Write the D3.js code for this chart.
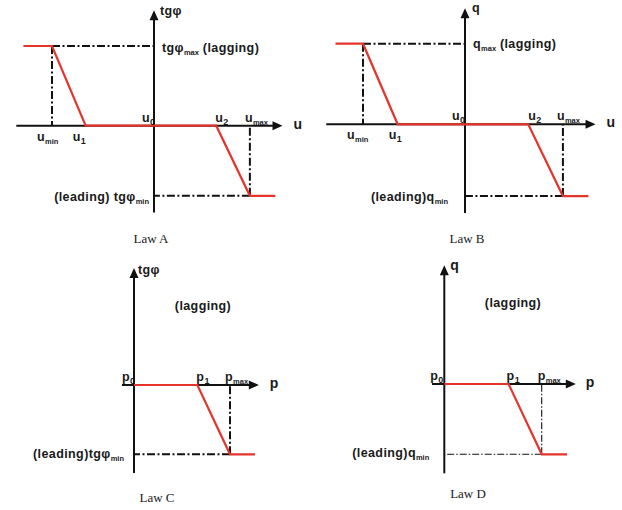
<!DOCTYPE html>
<html><head><meta charset="utf-8">
<script src="https://cdn.jsdelivr.net/npm/d3@7"></script>
<style>
html,body{margin:0;padding:0;background:#fff;}
svg text{font-family:"Liberation Sans",Arial,sans-serif;fill:#1a1a1a;}
.lbl{font-weight:bold;font-size:12.5px;letter-spacing:0.4px;}
.ax{font-weight:bold;font-size:14px;}
.ttl{font-family:"Liberation Serif","Times New Roman",serif;font-size:13px;font-weight:normal;letter-spacing:0;}
</style></head>
<body><svg id="c" width="622" height="510"></svg>
<script>
// ---- data (abstract units) ----
// Law A: tg(phi) vs u
const lawA_x = [-1.28, -1.0, -0.67, 0.61, 0.94, 1.19];
const lawA_y = [1, 1, 0, 0, -0.88, -0.88];
// Law B: q vs u
const lawB_x = [-1.27, -1.0, -0.66, 0.62, 0.96, 1.21];
const lawB_y = [1, 1, 0, 0, -0.89, -0.89];
// Law C: tg(phi) vs p
const lawC_x = [0, 0.66, 1.0, 1.26];
const lawC_y = [0, 0, -1, -1];
// Law D: q vs p
const lawD_x = [0, 0.66, 1.0, 1.26];
const lawD_y = [0, 0, -1, -1];
// axis extents
const lawA_xExt = [-1.35, 1.26], lawA_yExt = [-1.09, 1.45];
const lawB_xExt = [-1.36, 1.28], lawB_yExt = [-1.10, 1.44];
const lawC_xExt = [-0.125, 1.30], lawC_yExt = [-1.27, 1.69];
const lawD_xExt = [-0.126, 1.35], lawD_yExt = [-1.27, 1.69];
const titles = ["Law A", "Law B", "Law C", "Law D"];

const RED = "#e4342b";
const svg = d3.select("#c");

// panel layout: origin pixel + px per unit
const panels = [
  {xs: lawA_x, ys: lawA_y, xe: lawA_xExt, ye: lawA_yExt, ox: 154, oy: 125.7, kx: 102, ky: 79.7, dash: 2, title: titles[0], tx: 151, ty: 243},
  {xs: lawB_x, ys: lawB_y, xe: lawB_xExt, ye: lawB_yExt, ox: 465, oy: 124.3, kx: 102, ky: 80.6, dash: 2, title: titles[1], tx: 467, ty: 243},
  {xs: lawC_x, ys: lawC_y, xe: lawC_xExt, ye: lawC_yExt, ox: 134, oy: 385, kx: 96, ky: 69.3, dash: 2, title: titles[2], tx: 157, ty: 502},
  {xs: lawD_x, ys: lawD_y, xe: lawD_xExt, ye: lawD_yExt, ox: 444.3, oy: 384, kx: 97.4, ky: 70.3, dash: 1.1, title: titles[3], tx: 468, ty: 498}
];

panels.forEach(p => {
  p.x = d3.scaleLinear().domain([0, 1]).range([p.ox, p.ox + p.kx]);
  p.y = d3.scaleLinear().domain([0, 1]).range([p.oy, p.oy - p.ky]);
  const g = svg.append("g");
  p.g = g;
  const x = p.x, y = p.y;
  // axes
  g.append("line").attr("x1", x(p.xe[0])).attr("x2", x(p.xe[1]) - 6).attr("y1", y(0)).attr("y2", y(0))
    .attr("stroke", "#111").attr("stroke-width", 2);
  g.append("line").attr("x1", x(0)).attr("x2", x(0)).attr("y1", y(p.ye[0])).attr("y2", y(p.ye[1]) + 6)
    .attr("stroke", "#111").attr("stroke-width", 2);
  // arrow heads
  const ax = x(p.xe[1]), ay = y(0);
  g.append("path").attr("d", `M${ax},${ay} L${ax - 10},${ay - 4.5} L${ax - 10},${ay + 4.5}Z`).attr("fill", "#111");
  const bx = x(0), by = y(p.ye[1]);
  g.append("path").attr("d", `M${bx},${by} L${bx - 4.5},${by + 10} L${bx + 4.5},${by + 10}Z`).attr("fill", "#111");

  // dash-dot guides from corners of the curve
  const da = p.dash > 1.5 ? "8,2.5,2,2.5" : "7,2,1.5,2";
  for (let i = 0; i < p.xs.length; i++) {
    const xv = p.xs[i], yv = p.ys[i];
    const isCorner = yv !== 0 && ((i > 0 && p.ys[i - 1] !== yv) || (i < p.xs.length - 1 && p.ys[i + 1] !== yv));
    if (!isCorner) continue;
    g.append("line").attr("x1", x(xv)).attr("x2", x(xv)).attr("y1", y(yv)).attr("y2", y(0))
      .attr("stroke", "#111").attr("stroke-width", p.dash).attr("stroke-dasharray", da);
    g.append("line").attr("x1", x(xv)).attr("x2", x(0)).attr("y1", y(yv)).attr("y2", y(yv))
      .attr("stroke", "#111").attr("stroke-width", p.dash).attr("stroke-dasharray", da);
  }
  // red characteristic
  const line = d3.line().x((d, i) => x(p.xs[i])).y((d, i) => y(p.ys[i]));
  g.append("path").attr("d", line(p.xs)).attr("fill", "none").attr("stroke", RED).attr("stroke-width", 2.2)
    .attr("stroke-linejoin", "miter");
  // title
  g.append("text").attr("class", "ttl").attr("x", p.tx).attr("y", p.ty).attr("text-anchor", "middle").text(p.title);
});

// label helper with subscript
function lab(g, xp, yp, main, sub, rest, cls, anchor) {
  const t = g.append("text").attr("class", cls || "lbl").attr("x", xp).attr("y", yp).attr("text-anchor", anchor || "start");
  t.append("tspan").text(main);
  if (sub) t.append("tspan").attr("dy", 3).attr("font-size", sub.length > 1 ? "7.5px" : "9px").attr("letter-spacing", "0").text(sub);
  if (rest) t.append("tspan").attr("dy", sub ? -3 : 0).text(rest);
  return t;
}

// Law A labels
{
  const p = panels[0], g = p.g, x = p.x, y = p.y;
  lab(g, x(0) + 6, y(p.ye[1]) + 5, "tgφ");
  lab(g, x(0) + 8, y(1) + 6, "tgφ", "max", " (lagging)");
  lab(g, x(0) - 12, y(0) - 4, "u", "0");
  lab(g, x(lawA_x[3]) - 1, y(0) - 4, "u", "2");
  lab(g, x(lawA_x[4]) - 5, y(0) - 4, "u", "max");
  lab(g, x(p.xe[1]) + 11, y(0) + 3, "u", null, null, "ax");
  lab(g, x(lawA_x[1]) - 15, y(0) + 15, "u", "min");
  lab(g, x(lawA_x[2]) - 13, y(0) + 15, "u", "1");
  lab(g, x(0) - 5, y(lawA_y[4]) + 5, "(leading) tgφ", "min", null, "lbl", "end");
}
// Law B labels
{
  const p = panels[1], g = p.g, x = p.x, y = p.y;
  lab(g, x(0) + 7, y(p.ye[1]) + 4, "q", null, null, "ax").style("font-size", "12.5px");
  lab(g, x(0) + 8, y(1) + 4, "q", "max", "  (lagging)");
  lab(g, x(0) - 13, y(0) - 4, "u", "0");
  lab(g, x(lawB_x[3]), y(0) - 4, "u", "2");
  lab(g, x(lawB_x[4]) - 6, y(0) - 4, "u", "max");
  lab(g, x(p.xe[1]) + 11, y(0) + 3, "u", null, null, "ax");
  lab(g, x(lawB_x[1]) - 16, y(0) + 15, "u", "min");
  lab(g, x(lawB_x[2]) - 9, y(0) + 15, "u", "1");
  lab(g, x(0) - 17, y(lawB_y[4]) + 5, "(leading)q", "min", null, "lbl", "end");
}
// Law C labels
{
  const p = panels[2], g = p.g, x = p.x, y = p.y;
  lab(g, x(0) + 4, y(p.ye[1]) + 6, "tgφ");
  lab(g, 203, y(0) - 75, "(lagging)", null, null, "lbl", "middle");
  lab(g, x(0) - 12, y(0) - 4, "p", "0");
  lab(g, x(lawC_x[1]) - 1, y(0) - 4, "p", "1");
  lab(g, x(lawC_x[2]) - 5, y(0) - 4, "p", "max");
  lab(g, x(p.xe[1]) + 11, y(0) + 3, "p", null, null, "ax");
  lab(g, x(0) - 10, y(-1) + 4, "(leading)tgφ", "min", null, "lbl", "end");
}
// Law D labels
{
  const p = panels[3], g = p.g, x = p.x, y = p.y;
  lab(g, x(0) + 6, y(p.ye[1]) + 5, "q", null, null, "ax");
  lab(g, 513, y(0) - 77, "(lagging)", null, null, "lbl", "middle");
  lab(g, x(0) - 14, y(0) - 4, "p", "0");
  lab(g, x(lawD_x[1]) - 2, y(0) - 4, "p", "1");
  lab(g, x(lawD_x[2]) - 4, y(0) - 4, "p", "max");
  lab(g, x(p.xe[1]) + 10, y(0) + 3, "p", null, null, "ax");
  lab(g, x(0) - 15, y(-1) + 3, "(leading)q", "min", null, "lbl", "end");
}
</script></body></html>
